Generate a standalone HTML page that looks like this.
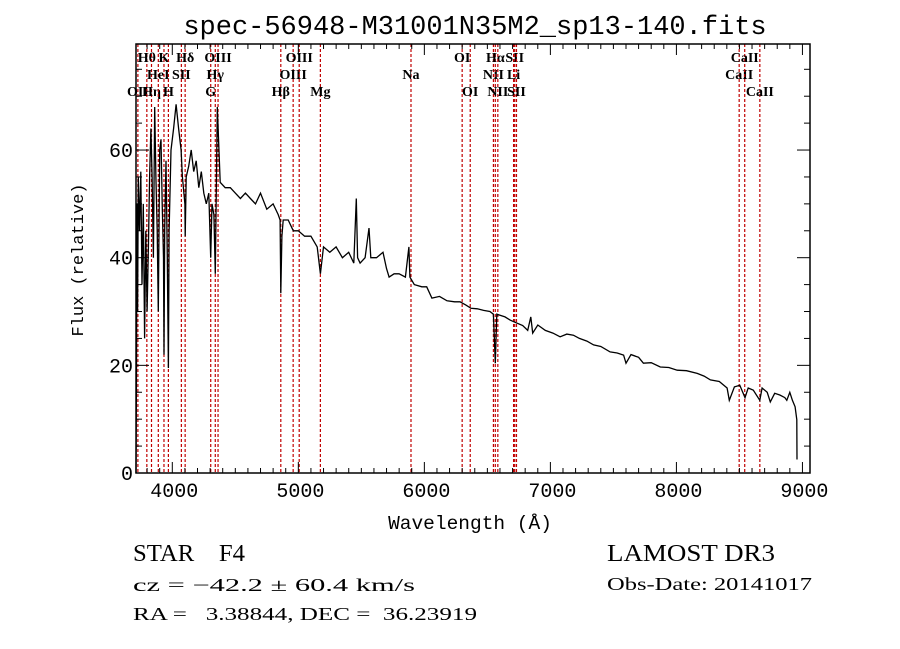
<!DOCTYPE html>
<html><head><meta charset="utf-8"><style>
html,body{margin:0;padding:0;background:#fff;}
svg{display:block;}
.t{font-family:"Liberation Mono",monospace;fill:#000;}
.s{font-family:"Liberation Serif",serif;fill:#000;}
</style></head><body>
<svg id="chart" width="900" height="649" viewBox="0 0 900 649">
<text class="t" x="475" y="34" font-size="27" text-anchor="middle">spec-56948-M31001N35M2_sp13-140.fits</text>
<text class="t" x="470" y="529" font-size="19.5" text-anchor="middle">Wavelength (Å)</text>
<text class="t" x="83" y="260" font-size="17" text-anchor="middle" transform="rotate(-90 83 260)">Flux (relative)</text>
<text class="s" x="133" y="561" font-size="24" xml:space="preserve" textLength="112" lengthAdjust="spacingAndGlyphs">STAR    F4</text>
<text class="s" x="133" y="591" font-size="18" textLength="282" lengthAdjust="spacingAndGlyphs">cz = −42.2 ± 60.4 km/s</text>
<text class="s" x="133" y="620" font-size="18" xml:space="preserve" textLength="344" lengthAdjust="spacingAndGlyphs">RA =   3.38844, DEC =  36.23919</text>
<text class="s" x="607" y="561" font-size="24" textLength="168" lengthAdjust="spacingAndGlyphs">LAMOST DR3</text>
<text class="s" x="607" y="590" font-size="18" textLength="205" lengthAdjust="spacingAndGlyphs">Obs-Date: 20141017</text>
<g id="plot"></g>
</svg>
<script>
const wavelengths=[3712,3716,3720,3725,3730,3740,3750,3760,3770,3780,3790,3800,3810,3820,3830,3840,3850,3860,3870,3880,3889,3900,3910,3920,3930,3934,3940,3950,3960,3969,3975,3990,4010,4030,4050,4070,4080,4100,4102,4110,4130,4150,4170,4190,4210,4230,4250,4270,4290,4305,4315,4330,4341,4357,4380,4420,4460,4500,4540,4580,4620,4660,4700,4750,4800,4840,4855,4861,4870,4880,4920,4960,5000,5050,5100,5150,5175,5200,5250,5300,5350,5400,5440,5460,5470,5490,5530,5561,5575,5620,5672,5700,5720,5760,5800,5850,5877,5885,5920,5980,6019,6060,6120,6180,6240,6283,6330,6370,6420,6470,6520,6548,6563,6575,6600,6640,6680,6720,6780,6820,6845,6860,6900,6960,7020,7077,7130,7183,7230,7290,7343,7400,7474,7530,7581,7600,7640,7700,7738,7800,7872,7940,8006,8080,8165,8220,8270,8340,8402,8420,8460,8503,8544,8570,8610,8662,8680,8720,8745,8780,8820,8860,8876,8900,8920,8942,8955,8957];
const flux=[0,20,50,30,55,45,56,35,50,25,45,30,42,55,64,55,40,68,55,45,30,60,62,50,40,22,45,58,40,19.5,45,60,64,68.5,64,60,55,50,44,55,57,60,56,58,53,56,52,50,52,40,50,48,37,68,54,53,53,52,51,52,51,50,52,49,50,48,47,33.4,44,47,47,45,45,44,44,42,37,42,41,42,40,41,39,51,40,39,40,45.5,40,40,41,38,36.4,37,37,36.4,42,36.4,35,34.6,34.6,32.5,32.8,32,31.8,31.8,31.2,30.6,30.5,30.2,30,29.5,20.4,29.5,29.3,29,28.4,28,27.4,26.5,29,26,27.5,26.5,26,25.3,25.8,25.6,25,24.5,23.8,23.5,22.5,22.3,21.9,20.4,22,21.5,20.4,20.5,19.7,19.6,19.1,19,18.5,18,17.3,17,15.8,13.5,16,16.3,14,15.8,15.4,13.5,15.8,15,13.2,14.8,14.5,14,13.5,15,13.5,12.3,9.9,2.5];
const lineWaves=[3727,3798,3835,3889,3934,3969,4072,4102,4305,4341,4363,4861,4959,5007,5175,5894,6300,6364,6548,6563,6583,6708,6717,6731,8498,8542,8662];
const lineNames=["OII","Hθ","Hη","HeI","K","H","SII","Hδ","G","Hγ","OIII","Hβ","OIII","OIII","Mg","Na","OI","OI","NII","Hα","NII","Li","SII","SII","CaII","CaII","CaII"];
const lineRows=[2,0,2,1,0,2,1,0,2,1,0,2,1,0,2,1,0,2,1,0,2,1,0,2,1,0,2];
const xTicks=[4000,5000,6000,7000,8000,9000];
const yTicks=[0,20,40,60];

const L=136,R=810,T=44,B=473;
const X0=3712,X1=9060,Y0=0,Y1=79.7;
const xs=v=>L+(v-X0)/(X1-X0)*(R-L);
const ys=v=>B-(v-Y0)/(Y1-Y0)*(B-T);
const NS="http://www.w3.org/2000/svg";
const g=document.getElementById('plot');
function mk(tag,attrs,parent){const e=document.createElementNS(NS,tag);for(const k in attrs)e.setAttribute(k,attrs[k]);(parent||g).appendChild(e);return e;}

lineWaves.forEach((w,i)=>{
  const x=xs(w);
  const ln=mk('line',{x1:x,x2:x,y1:T,y2:B,stroke:'#c00000','stroke-width':1.2,'stroke-dasharray':'3,2'});
  
  
  const tx=mk('text',{x:x,y:T+18+lineRows[i]*17,'font-size':14,'font-weight':'bold','text-anchor':'middle',class:'s'});
  tx.textContent=lineNames[i];
  
  
});

let d='';
wavelengths.forEach((w,i)=>{d+=(i?'L':'M')+xs(w).toFixed(1)+','+ys(flux[i]).toFixed(1);});
const sp=mk('path',{d:d,fill:'none',stroke:'#000','stroke-width':1.3});



const fr=mk('rect',{x:L,y:T,width:R-L,height:B-T,fill:'none',stroke:'#000','stroke-width':1.5});



for(let w=3800;w<=9000;w+=100){
  const x=xs(w),maj=w%1000===0,len=maj?11:5;
  mk('line',{x1:x,x2:x,y1:B,y2:B-len,stroke:'#000','stroke-width':1});
  mk('line',{x1:x,x2:x,y1:T,y2:T+len,stroke:'#000','stroke-width':1});
}
xTicks.forEach(w=>{
  const t=mk('text',{x:xs(w)+2,y:B+24,'font-size':20,'text-anchor':'middle',class:'t'});
  t.textContent=w;
  
  
});
for(let v=0;v<=75;v+=5){
  const y=ys(v),maj=v%20===0,len=maj?13:6;
  mk('line',{x1:L,x2:L+len,y1:y,y2:y,stroke:'#000','stroke-width':1});
  mk('line',{x1:R,x2:R-len,y1:y,y2:y,stroke:'#000','stroke-width':1});
}
yTicks.forEach(v=>{
  const t=mk('text',{x:L-3,y:ys(v)+7,'font-size':20,'text-anchor':'end',class:'t'});
  t.textContent=v;
  
  
});
</script>
</body></html>
